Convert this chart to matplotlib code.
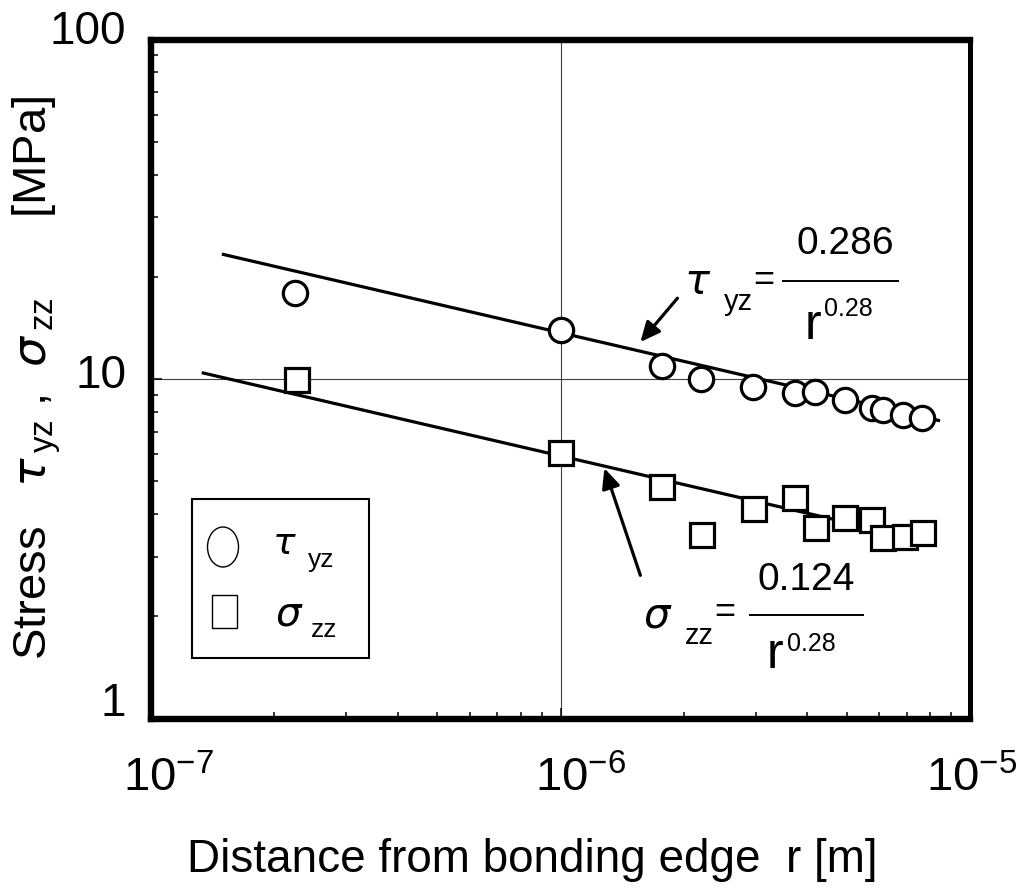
import numpy as np
import matplotlib
matplotlib.use("Agg")
import matplotlib.pyplot as plt
from matplotlib import font_manager
from matplotlib.patches import Ellipse, Rectangle
from matplotlib.lines import Line2D
from matplotlib.transforms import ScaledTranslation

# ---- data -------------------------------------------------------------
r_tau = [2.25e-7, 1.0e-6, 1.77e-6, 2.20e-6, 2.95e-6, 3.74e-6, 4.18e-6,
         4.95e-6, 5.75e-6, 6.12e-6, 6.87e-6, 7.62e-6]
tau_yz = [17.9, 13.9, 10.9, 10.0, 9.49, 9.08, 9.18, 8.67, 8.20, 8.10, 7.83, 7.66]

r_sig = [2.27e-7, 1.0e-6, 1.77e-6, 2.21e-6, 2.97e-6, 3.74e-6, 4.20e-6,
         4.95e-6, 5.75e-6, 6.14e-6, 6.93e-6, 7.66e-6]
sigma_zz = [9.93, 6.05, 4.82, 3.47, 4.13, 4.45, 3.63, 3.89, 3.84, 3.40, 3.43, 3.51]

# power-law fits  stress = C / r^n
tau_coef, sig_coef, fit_exp = 0.286, 0.124, 0.28
tau_fit_range = (1.49e-7, 8.45e-6)
sig_fit_range = (1.33e-7, 7.5e-6)

xticks = [1e-7, 1e-6, 1e-5]
xticklabels = [r"$\mathregular{10^{-7}}$", r"$\mathregular{10^{-6}}$", r"$\mathregular{10^{-5}}$"]
yticks = [1, 10, 100]
yticklabels = ["1", "10", "100"]

# ---- fonts ------------------------------------------------------------
names = {f.name for f in font_manager.fontManager.ttflist}
narrow = "Liberation Sans Narrow" if "Liberation Sans Narrow" in names else "Liberation Sans"
sans = "Liberation Sans"
plt.rcParams["font.family"] = [sans, "DejaVu Sans"]
plt.rcParams["mathtext.fontset"] = "custom"
plt.rcParams["mathtext.rm"] = narrow
plt.rcParams["mathtext.it"] = "DejaVu Sans:italic"

W, H = 1021, 891
fig = plt.figure(figsize=(W / 100, H / 100), dpi=100)
ax = fig.add_axes([151 / W, 1 - 718.5 / H, 819 / W, 679 / H])


def fx(px):
    return px / W


def fy(py):
    return 1 - py / H


ax.set_xscale("log")
ax.set_yscale("log")
ax.set_xlim(1e-7, 1e-5)
ax.set_ylim(1, 100)

# fitted lines
for coef, (r0, r1) in ((tau_coef, tau_fit_range), (sig_coef, sig_fit_range)):
    rr = np.logspace(np.log10(r0), np.log10(r1), 100)
    ax.plot(rr, coef / rr ** fit_exp, color="black", lw=2.3, zorder=3,
            solid_capstyle="butt")

# measured points
ax.plot(r_tau, tau_yz, ls="none", marker="o", ms=17.5, mfc="white", mec="black",
        mew=2.3, zorder=4, clip_on=False)
ax.plot(r_sig, sigma_zz, ls="none", marker="s", ms=17, mfc="white", mec="black",
        mew=2.3, zorder=4, clip_on=False)

# axes styling
ax.grid(which="major", color="0.25", lw=0.8)
ax.set_axisbelow(True)
for side in ("left", "top", "bottom"):
    ax.spines[side].set_linewidth(4.6)
ax.spines["right"].set_linewidth(3.6)
ax.tick_params(which="both", direction="in", top=False, right=False, color="black")
ax.tick_params(which="minor", length=5, width=1.1)
ax.tick_params(which="major", length=8, width=1.1)
ax.tick_params(axis="x", which="major", pad=27, labelsize=34)
ax.tick_params(axis="y", which="major", pad=18, labelsize=33)

ax.set_xticks(xticks)
ax.set_xticklabels(xticklabels)
ax.set_yticks(yticks)
ax.set_yticklabels(yticklabels, fontfamily=narrow)

for lab, dx in zip(ax.get_xticklabels(), (18, 20, 2)):
    lab.set_transform(lab.get_transform() + ScaledTranslation(dx / 100, 0, fig.dpi_scale_trans))
for lab, dy in zip(ax.get_yticklabels(), (19, 8, 12)):
    lab.set_transform(lab.get_transform() + ScaledTranslation(0, dy / 100, fig.dpi_scale_trans))

# axis titles
fig.text(fx(532), fy(860), "Distance from bonding edge  r [m]", fontsize=33,
         fontfamily=narrow, ha="center", va="center")
fig.text(fx(37), fy(378),
         r"Stress   $\tau_{\,\mathregular{yz}}$ ,  $\sigma_{\,\mathregular{zz}}$      [MPa]",
         fontsize=34, rotation=90, ha="center", va="center")

# ---- fit formulas ------------------------------------------------------
def formula(sym, sub, num, sym_xy, sub_xy, eq_xy, bar, num_xy, r_xy, exp_xy):
    fig.text(fx(sym_xy[0]), fy(sym_xy[1]), sym, fontsize=30, ha="center", va="center")
    fig.text(fx(sub_xy[0]), fy(sub_xy[1]), sub, fontsize=21, ha="center", va="center")
    fig.text(fx(eq_xy[0]), fy(eq_xy[1]), "=", fontsize=26, ha="center", va="center")
    fig.add_artist(Line2D([fx(bar[0]), fx(bar[1])], [fy(bar[2]), fy(bar[2])],
                          color="black", lw=1.4, transform=fig.transFigure))
    fig.text(fx(num_xy[0]), fy(num_xy[1]), num, fontsize=28, ha="center", va="center")
    fig.text(fx(r_xy[0]), fy(r_xy[1]), "r", fontsize=36, ha="center", va="center")
    fig.text(fx(exp_xy[0]), fy(exp_xy[1]), f"{fit_exp:.2f}", fontsize=18,
             ha="center", va="center")


formula(r"$\tau$", "yz", f"{tau_coef:.3f}",
        (698, 283), (738, 302), (764, 280), (783, 898, 281),
        (845, 244), (813, 326), (848, 309))
formula(r"$\sigma$", "zz", f"{sig_coef:.3f}",
        (658, 617), (699, 636), (725, 612), (750, 863, 615),
        (806, 580), (775, 655), (811, 644))

arrow = dict(arrowstyle="-|>,head_length=1.2,head_width=0.55", color="black",
             lw=2.3, shrinkA=0, shrinkB=0)
ax.annotate("", xy=(1.567e-6, 12.85), xytext=(1.93e-6, 17.3), arrowprops=arrow)
ax.annotate("", xy=(1.28e-6, 5.46), xytext=(1.567e-6, 2.64), arrowprops=arrow)

# ---- legend ------------------------------------------------------------
fig.add_artist(Rectangle((fx(192), fy(658)), (369 - 192) / W, (658 - 499) / H,
                         fill=True, fc="white", ec="black", lw=1.5,
                         transform=fig.transFigure, zorder=5))
fig.add_artist(Ellipse((fx(223), fy(547)), 31 / W, 40 / H, fc="white", ec="black",
                       lw=1.0, transform=fig.transFigure, zorder=6))
fig.add_artist(Rectangle((fx(212), fy(628)), 25 / W, 33 / H, fc="white", ec="black",
                         lw=1.0, transform=fig.transFigure, zorder=6))
fig.text(fx(284), fy(544), r"$\tau$", fontsize=27, ha="center", va="center", zorder=7)
fig.text(fx(321), fy(560), "yz", fontsize=19, ha="center", va="center", zorder=7)
fig.text(fx(289), fy(615), r"$\sigma$", fontsize=29, ha="center", va="center", zorder=7)
fig.text(fx(324), fy(630), "zz", fontsize=19, ha="center", va="center", zorder=7)

fig.savefig("out.png", dpi=100)
